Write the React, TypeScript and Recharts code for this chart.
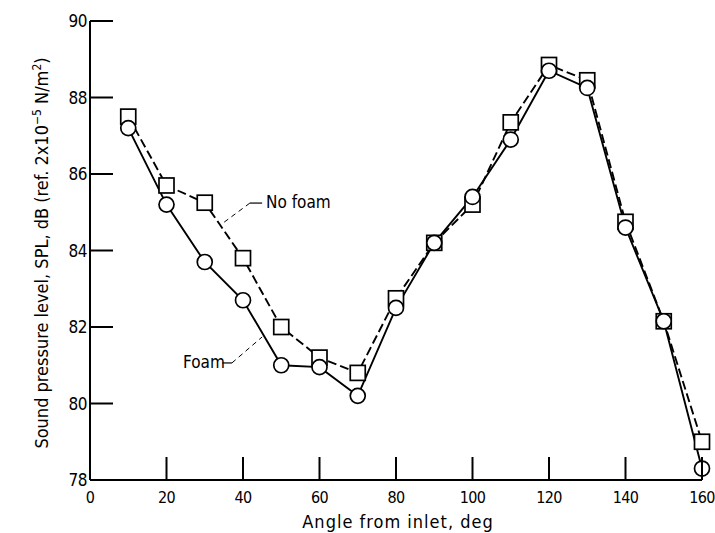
import { ComposedChart, Line, ReferenceLine, XAxis, YAxis } from 'recharts'

const font = "'Liberation Sans Narrow', 'DejaVu Sans Condensed', sans-serif"

const angles = [10, 20, 30, 40, 50, 60, 70, 80, 90, 100, 110, 120, 130, 140, 150, 160]
const foam = [87.2, 85.2, 83.7, 82.7, 81.0, 80.95, 80.2, 82.5, 84.2, 85.4, 86.9, 88.7, 88.25, 84.6, 82.15, 78.3]
const noFoam = [87.5, 85.7, 85.25, 83.8, 82.0, 81.2, 80.8, 82.75, 84.2, 85.2, 87.35, 88.85, 88.45, 84.75, 82.15, 79.0]

const xTicks = [0, 20, 40, 60, 80, 100, 120, 140, 160]
const yTicks = [78, 80, 82, 84, 86, 88, 90]

const data = angles.map((a, i) => ({ angle: a, foam: foam[i], noFoam: noFoam[i] }))

const TICK_LEN = 23

// tick marks point into the plot, labels sit outside
const XTick = (props: any) => {
  const { x, y, payload } = props
  return (
    <g>
      {payload.value !== 0 && <line x1={x} x2={x} y1={y} y2={y - TICK_LEN} stroke='#000' strokeWidth={2} />}
      <text x={x} y={y + 23} textAnchor='middle' fontSize={16} letterSpacing={-0.6} fontFamily={font} fill='#000'>
        {payload.value}
      </text>
    </g>
  )
}

const YTick = (props: any) => {
  const { x, y, payload } = props
  return (
    <g>
      {payload.value !== 78 && <line x1={x} x2={x + TICK_LEN} y1={y} y2={y} stroke='#000' strokeWidth={2} />}
      <text x={x - 3} y={y} dy='0.36em' textAnchor='end' fontSize={17} letterSpacing={-0.5} fontFamily={font} fill='#000'>
        {payload.value}
      </text>
    </g>
  )
}

const CircleDot = (props: any) => {
  const { cx, cy } = props
  if (cx == null || cy == null) return null
  return <circle cx={cx} cy={cy} r={7.5} fill='#fff' stroke='#000' strokeWidth={1.7} />
}

const SquareDot = (props: any) => {
  const { cx, cy } = props
  if (cx == null || cy == null) return null
  return <rect x={cx - 7.5} y={cy - 7.5} width={15} height={15} fill='#fff' stroke='#000' strokeWidth={1.7} />
}

export default function App() {
  return (
    <div style={{ position: 'absolute', left: 0, top: 0, width: 715, height: 533, background: '#fff', fontFamily: font }}>
      <ComposedChart width={715} height={533} data={data} margin={{ top: 21, right: 13, bottom: 13, left: 0 }}>
        <XAxis
          dataKey='angle'
          type='number'
          domain={[0, 160]}
          ticks={xTicks}
          interval={0}
          stroke='#000'
          strokeWidth={2}
          tickLine={false}
          tickSize={0}
          tickMargin={0}
          tick={<XTick />}
          height={40}
        />
        <YAxis
          type='number'
          domain={[78, 90]}
          ticks={yTicks}
          interval={0}
          stroke='#000'
          strokeWidth={2}
          tickLine={false}
          tickSize={0}
          tickMargin={0}
          tick={<YTick />}
          width={90}
        />
        <ReferenceLine segment={[{ x: 41.8, y: 85.24 }, { x: 45.0, y: 85.24 }]} stroke='#000' strokeWidth={1.2} />
        <ReferenceLine segment={[{ x: 41.8, y: 85.24 }, { x: 34.8, y: 84.72 }]} stroke='#000' strokeWidth={1} strokeDasharray='5 4' />
        <ReferenceLine segment={[{ x: 34.6, y: 81.06 }, { x: 37.1, y: 81.06 }]} stroke='#000' strokeWidth={1.2} />
        <ReferenceLine segment={[{ x: 37.1, y: 81.06 }, { x: 45.0, y: 81.74 }]} stroke='#000' strokeWidth={1} strokeDasharray='5 4' />
        <Line
          dataKey='noFoam'
          stroke='#000'
          strokeWidth={1.9}
          strokeDasharray='9 4'
          dot={<SquareDot />}
          isAnimationActive={false}
        />
        <Line
          dataKey='foam'
          stroke='#000'
          strokeWidth={1.9}
          dot={<CircleDot />}
          isAnimationActive={false}
        />
      </ComposedChart>
      <div style={{ position: 'absolute', left: 266, top: 192, fontSize: 17 }}>No foam</div>
      <div style={{ position: 'absolute', left: 183, top: 352, fontSize: 17 }}>Foam</div>
      <div
        style={{
          position: 'absolute',
          left: 398,
          top: 521,
          transform: 'translate(-50%, -50%)',
          whiteSpace: 'nowrap',
          fontSize: 18,
          letterSpacing: 1,
        }}
      >
        Angle from inlet, deg
      </div>
      <div
        style={{
          position: 'absolute',
          left: 41,
          top: 253,
          transform: 'translate(-50%, -50%) rotate(-90deg)',
          whiteSpace: 'nowrap',
          fontSize: 18,
        }}
      >
        Sound pressure level, SPL, dB (ref. 2x10<sup style={{ fontSize: 12 }}>−5</sup> N/m<sup style={{ fontSize: 12 }}>2</sup>)
      </div>
    </div>
  )
}
